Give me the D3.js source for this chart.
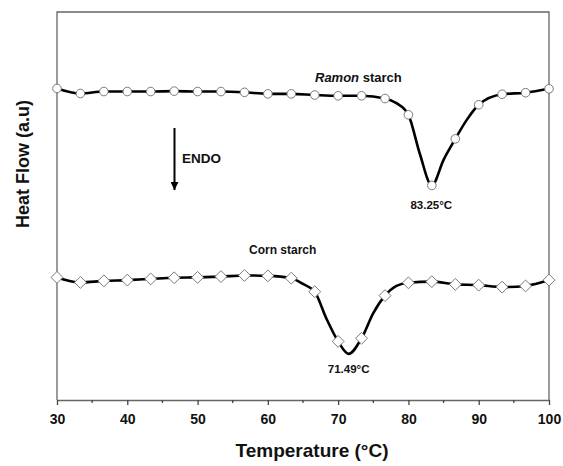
<!DOCTYPE html>
<html>
<head>
<meta charset="utf-8">
<script src="https://cdn.jsdelivr.net/npm/d3@7"></script>
<style>
  body { margin: 0; background: #fff; }
  svg { display: block; font-family: "Liberation Sans", Arial, sans-serif; font-weight: bold; }
</style>
</head>
<body>
<div id="chart"></div>
<script>
// Marker temperatures (°C), same for both curves
const markerTemps = [30, 33.33, 36.67, 40, 43.33, 46.67, 50, 53.33, 56.67, 60, 63.33,
  66.67, 70, 73.33, 76.67, 80, 83.33, 86.67, 90, 93.33, 96.67, 100];

// Heat flow (a.u.) at the markers
const ramonValues = [8.03, 7.90, 7.95, 7.95, 7.95, 7.96, 7.95, 7.95, 7.93, 7.89, 7.89,
  7.86, 7.84, 7.84, 7.77, 7.35, 5.53, 6.73, 7.61, 7.88, 7.92, 8.02];
const cornValues = [3.16, 3.03, 3.07, 3.09, 3.12, 3.15, 3.16, 3.18, 3.21, 3.20, 3.14,
  2.79, 1.51, 1.59, 2.69, 3.02, 3.05, 2.98, 2.96, 2.91, 2.94, 3.09];

// Extra points
const ramonExtraTemps = [78.3, 81.6, 85, 88.3];
const ramonExtraValues = [7.65, 6.36, 6.19, 7.22];
const cornExtraTemps = [65, 68.3, 71.49, 75, 78.3];
const cornExtraValues = [2.99, 2.11, 1.19, 2.24, 2.94];

const xTicks = [30, 40, 50, 60, 70, 80, 90, 100];
const xMinorTicks = [35, 45, 55, 65, 75, 85, 95];

(function () {
  const WIDTH = 563;
  const HEIGHT = 466;
  const margin = { top: 12, right: 14, bottom: 66, left: 57 };
  const MARKER_STROKE = "#7a7a7a";

  const svg = d3.select("#chart").append("svg")
    .attr("width", WIDTH)
    .attr("height", HEIGHT);

  const x = d3.scaleLinear().domain([30, 100]).range([margin.left, WIDTH - margin.right]);
  const y = d3.scaleLinear().domain([0, 10]).range([HEIGHT - margin.bottom, margin.top]);

  const ramon = markerTemps.map((t, i) => ({ t: t, v: ramonValues[i] }));
  const corn = markerTemps.map((t, i) => ({ t: t, v: cornValues[i] }));
  const ramonTrace = withExtras(ramon, ramonExtraTemps, ramonExtraValues);
  const cornTrace = withExtras(corn, cornExtraTemps, cornExtraValues);

  // frame: left, top, right
  const x0 = x.range()[0], x1 = x.range()[1];
  const yTop = y.range()[1], yBot = y.range()[0];
  svg.append("path")
    .attr("d", `M${x0},${yBot}V${yTop}H${x1}V${yBot}`)
    .attr("fill", "none")
    .attr("stroke", "#666")
    .attr("stroke-width", 1.3);

  // x axis
  const xAxis = svg.append("g")
    .attr("transform", `translate(0,${yBot})`)
    .call(d3.axisBottom(x).tickValues(xTicks).tickSize(5).tickSizeOuter(0).tickPadding(9));
  xAxis.select(".domain").attr("stroke", "#666").attr("stroke-width", 1.3);
  xAxis.selectAll(".tick line").attr("stroke", "#444").attr("stroke-width", 1.3);
  xAxis.selectAll(".tick text")
    .attr("font-size", 14)
    .attr("font-weight", "bold")
    .attr("font-family", "Liberation Sans, Arial, sans-serif")
    .attr("fill", "#111");
  xAxis.selectAll(".minor")
    .data(xMinorTicks)
    .enter()
    .append("line")
    .attr("class", "minor")
    .attr("x1", (d) => x(d)).attr("x2", (d) => x(d))
    .attr("y1", 0).attr("y2", 3)
    .attr("stroke", "#444")
    .attr("stroke-width", 1.3);

  // axis titles
  svg.append("text")
    .attr("x", 312)
    .attr("y", 457)
    .attr("text-anchor", "middle")
    .attr("font-size", 19)
    .attr("fill", "#111")
    .text("Temperature (°C)");

  svg.append("text")
    .attr("transform", "translate(29,164) rotate(-90)")
    .attr("text-anchor", "middle")
    .attr("font-size", 18)
    .attr("fill", "#111")
    .text("Heat Flow (a.u)");

  // traces
  const line = d3.line()
    .x((d) => x(d.t))
    .y((d) => y(d.v))
    .curve(d3.curveMonotoneX);

  [ramonTrace, cornTrace].forEach((trace) => {
    svg.append("path")
      .datum(trace)
      .attr("d", line)
      .attr("fill", "none")
      .attr("stroke", "#000")
      .attr("stroke-width", 2.6)
      .attr("stroke-linejoin", "round");
  });

  svg.append("g").selectAll("circle")
    .data(ramon)
    .enter()
    .append("circle")
    .attr("cx", (d) => x(d.t))
    .attr("cy", (d) => y(d.v))
    .attr("r", 4.3)
    .attr("fill", "#fff")
    .attr("stroke", MARKER_STROKE)
    .attr("stroke-width", 1);

  const diamond = d3.symbol().type(d3.symbolDiamond2).size(90);
  svg.append("g").selectAll("path")
    .data(corn)
    .enter()
    .append("path")
    .attr("d", diamond)
    .attr("transform", (d) => `translate(${x(d.t)},${y(d.v)})`)
    .attr("fill", "#fff")
    .attr("stroke", MARKER_STROKE)
    .attr("stroke-width", 1);

  // labels
  const ramonLabel = svg.append("text")
    .attr("x", 315)
    .attr("y", 82)
    .attr("font-size", 13)
    .attr("fill", "#111");
  ramonLabel.append("tspan").attr("font-style", "italic").text("Ramon");
  ramonLabel.append("tspan").text(" starch");

  svg.append("text")
    .attr("x", 249)
    .attr("y", 254)
    .attr("font-size", 12)
    .attr("fill", "#111")
    .text("Corn starch");

  svg.append("text")
    .attr("x", x(83.25))
    .attr("y", 209)
    .attr("text-anchor", "middle")
    .attr("font-size", 11.5)
    .attr("fill", "#111")
    .text("83.25°C");

  svg.append("text")
    .attr("x", x(71.49))
    .attr("y", 373)
    .attr("text-anchor", "middle")
    .attr("font-size", 11.5)
    .attr("fill", "#111")
    .text("71.49°C");

  // ENDO arrow
  svg.append("defs").append("marker")
    .attr("id", "arrowhead")
    .attr("viewBox", "0 0 10 10")
    .attr("refX", 10).attr("refY", 5)
    .attr("markerWidth", 4).attr("markerHeight", 4)
    .attr("orient", "auto")
    .append("path")
    .attr("d", "M0,0L10,5L0,10Z")
    .attr("fill", "#000");

  svg.append("line")
    .attr("x1", 174.5).attr("y1", 128)
    .attr("x2", 174.5).attr("y2", 190)
    .attr("stroke", "#000")
    .attr("stroke-width", 2)
    .attr("marker-end", "url(#arrowhead)");

  svg.append("text")
    .attr("x", 182)
    .attr("y", 163)
    .attr("font-size", 13.5)
    .attr("fill", "#111")
    .text("ENDO");

  function withExtras(points, temps, values) {
    const extras = temps.map((t, i) => ({ t: t, v: values[i] }));
    return points.concat(extras).sort((a, b) => a.t - b.t);
  }
})();
</script>
</body>
</html>
